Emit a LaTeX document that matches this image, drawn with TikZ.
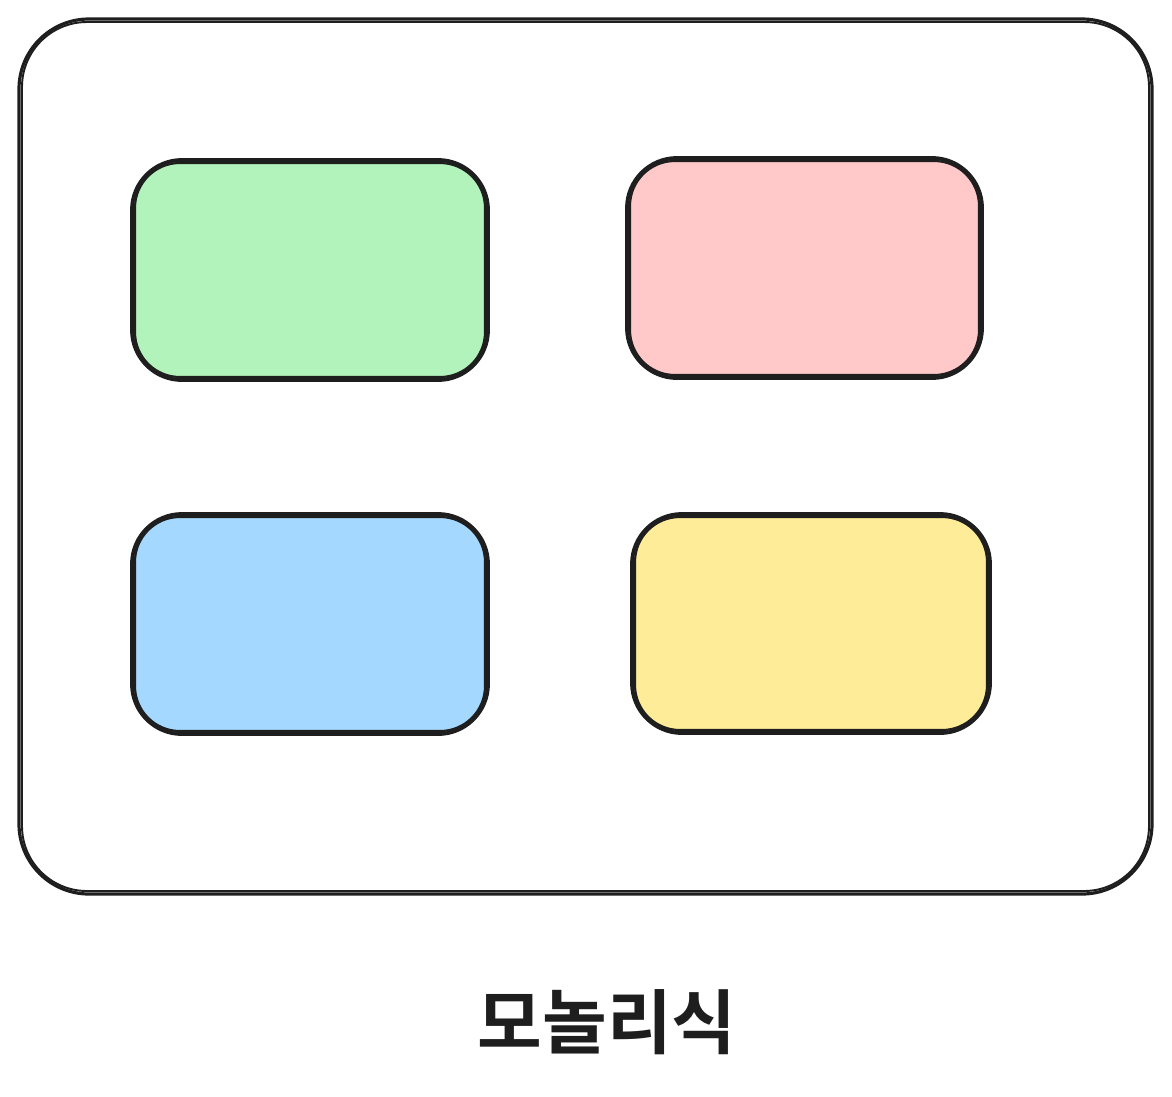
\documentclass[tikz,border=0pt]{standalone}
\usepackage{fontspec}
\newfontfamily\krfont{Noto Sans CJK KR}[BoldFont={* Bold}]
\definecolor{ink}{HTML}{1E1E1E}
\definecolor{mintfill}{HTML}{B2F2BB}
\definecolor{rosefill}{HTML}{FFC9C9}
\definecolor{skyfill}{HTML}{A5D8FF}
\definecolor{lemonfill}{HTML}{FFEC99}
\tikzset{
	pane/.style={draw=ink, line width=2.2pt, rounded corners=1cm},
	paneagain/.style={draw=ink, line width=1.2pt, rounded corners=0.9cm},
	frame/.style={draw=ink, line width=1.8pt, rounded corners=1.4cm},
}
\begin{document}
\begin{tikzpicture}[x=0.02cm, y=-0.02cm]
	\useasboundingbox (0,0) rectangle (1172,1096);
	% outer frame
	\draw [frame] (19,19) rectangle (1152,894);
	\draw [ink, line width=1.1pt, rounded corners=1.3cm] (22,22) rectangle (1149,891);
	% the four parts
	\draw [pane, fill=mintfill] (132,160) rectangle (488,380);
	\draw [paneagain] (135,163) rectangle (485,377);
	\draw [pane, fill=rosefill] (627,158) rectangle (982,378);
	\draw [paneagain] (630,161) rectangle (979,375);
	\draw [pane, fill=skyfill] (132,514) rectangle (488,734);
	\draw [paneagain] (135,517) rectangle (485,731);
	\draw [pane, fill=lemonfill] (632,514) rectangle (990,733);
	\draw [paneagain] (635,517) rectangle (987,730);
	\node [ink, font=\krfont\bfseries\fontsize{40}{44}\selectfont] (label) at (607,1022) {모놀리식};
%	\draw [step=100, gray] (0,0) grid (1172,1096);
\end{tikzpicture}
\end{document}
